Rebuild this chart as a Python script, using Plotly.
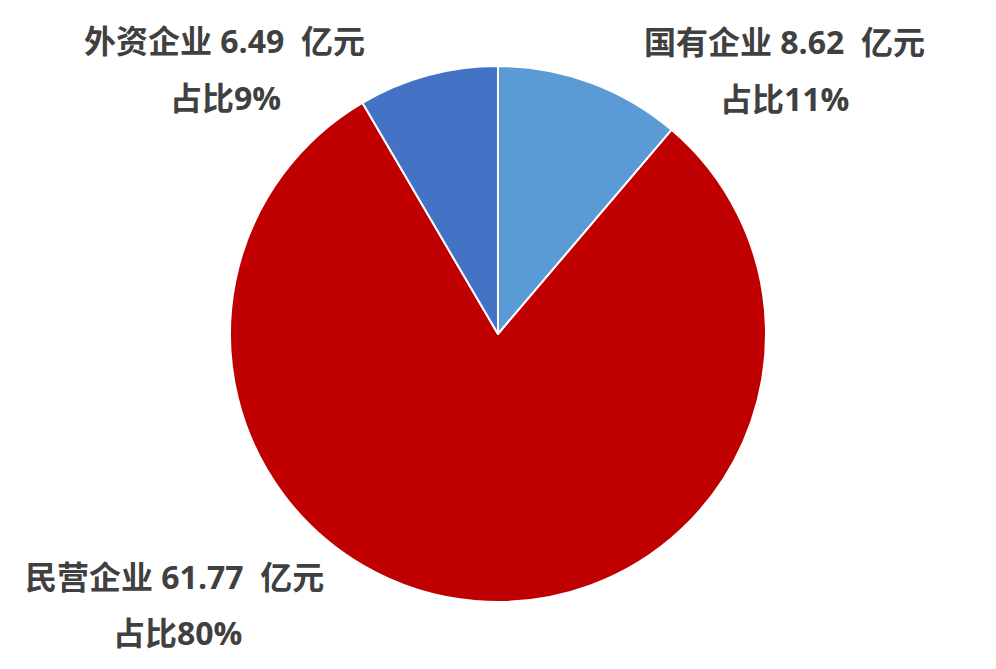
import plotly.graph_objects as go

categories = ["国有企业", "民营企业", "外资企业"]
values = [8.62, 61.77, 6.49]
shares = ["占比11%", "占比80%", "占比9%"]
colors = ["#5B9BD5", "#C00000", "#4472C4"]

W, H = 996, 669
cx, cy, r = 498, 334, 268

fig = go.Figure(go.Pie(
    labels=categories, values=values, sort=False, direction="clockwise", rotation=0,
    marker=dict(colors=colors, line=dict(color="white", width=2)),
    textinfo="none", hoverinfo="label+value+percent", showlegend=False,
    domain=dict(x=[(cx - r) / W, (cx + r) / W], y=[(H - cy - r) / H, (H - cy + r) / H]),
))

# label positions (pixel centers)
label_pos = [((784, 42), (784, 99)), ((174, 576), (177, 632)), ((224, 41), (225, 97))]
font = dict(family="Open Sans, Noto Sans CJK SC, sans-serif", size=32, color="#404040")
for cat, val, sh, (p1, p2) in zip(categories, values, shares, label_pos):
    for text, (x, y) in ((f"<b>{cat} {val:.2f}&nbsp; 亿元</b>", p1), (f"<b>{sh}</b>", p2)):
        fig.add_annotation(x=x / W, y=1 - y / H, xref="paper", yref="paper",
                           text=text, showarrow=False, font=font,
                           xanchor="center", yanchor="middle")

fig.update_layout(width=W, height=H, margin=dict(l=0, r=0, t=0, b=0),
                  paper_bgcolor="white", plot_bgcolor="white")
fig.write_html("out.html", config={"displayModeBar": False},
               post_script="document.body.style.margin='0';")
